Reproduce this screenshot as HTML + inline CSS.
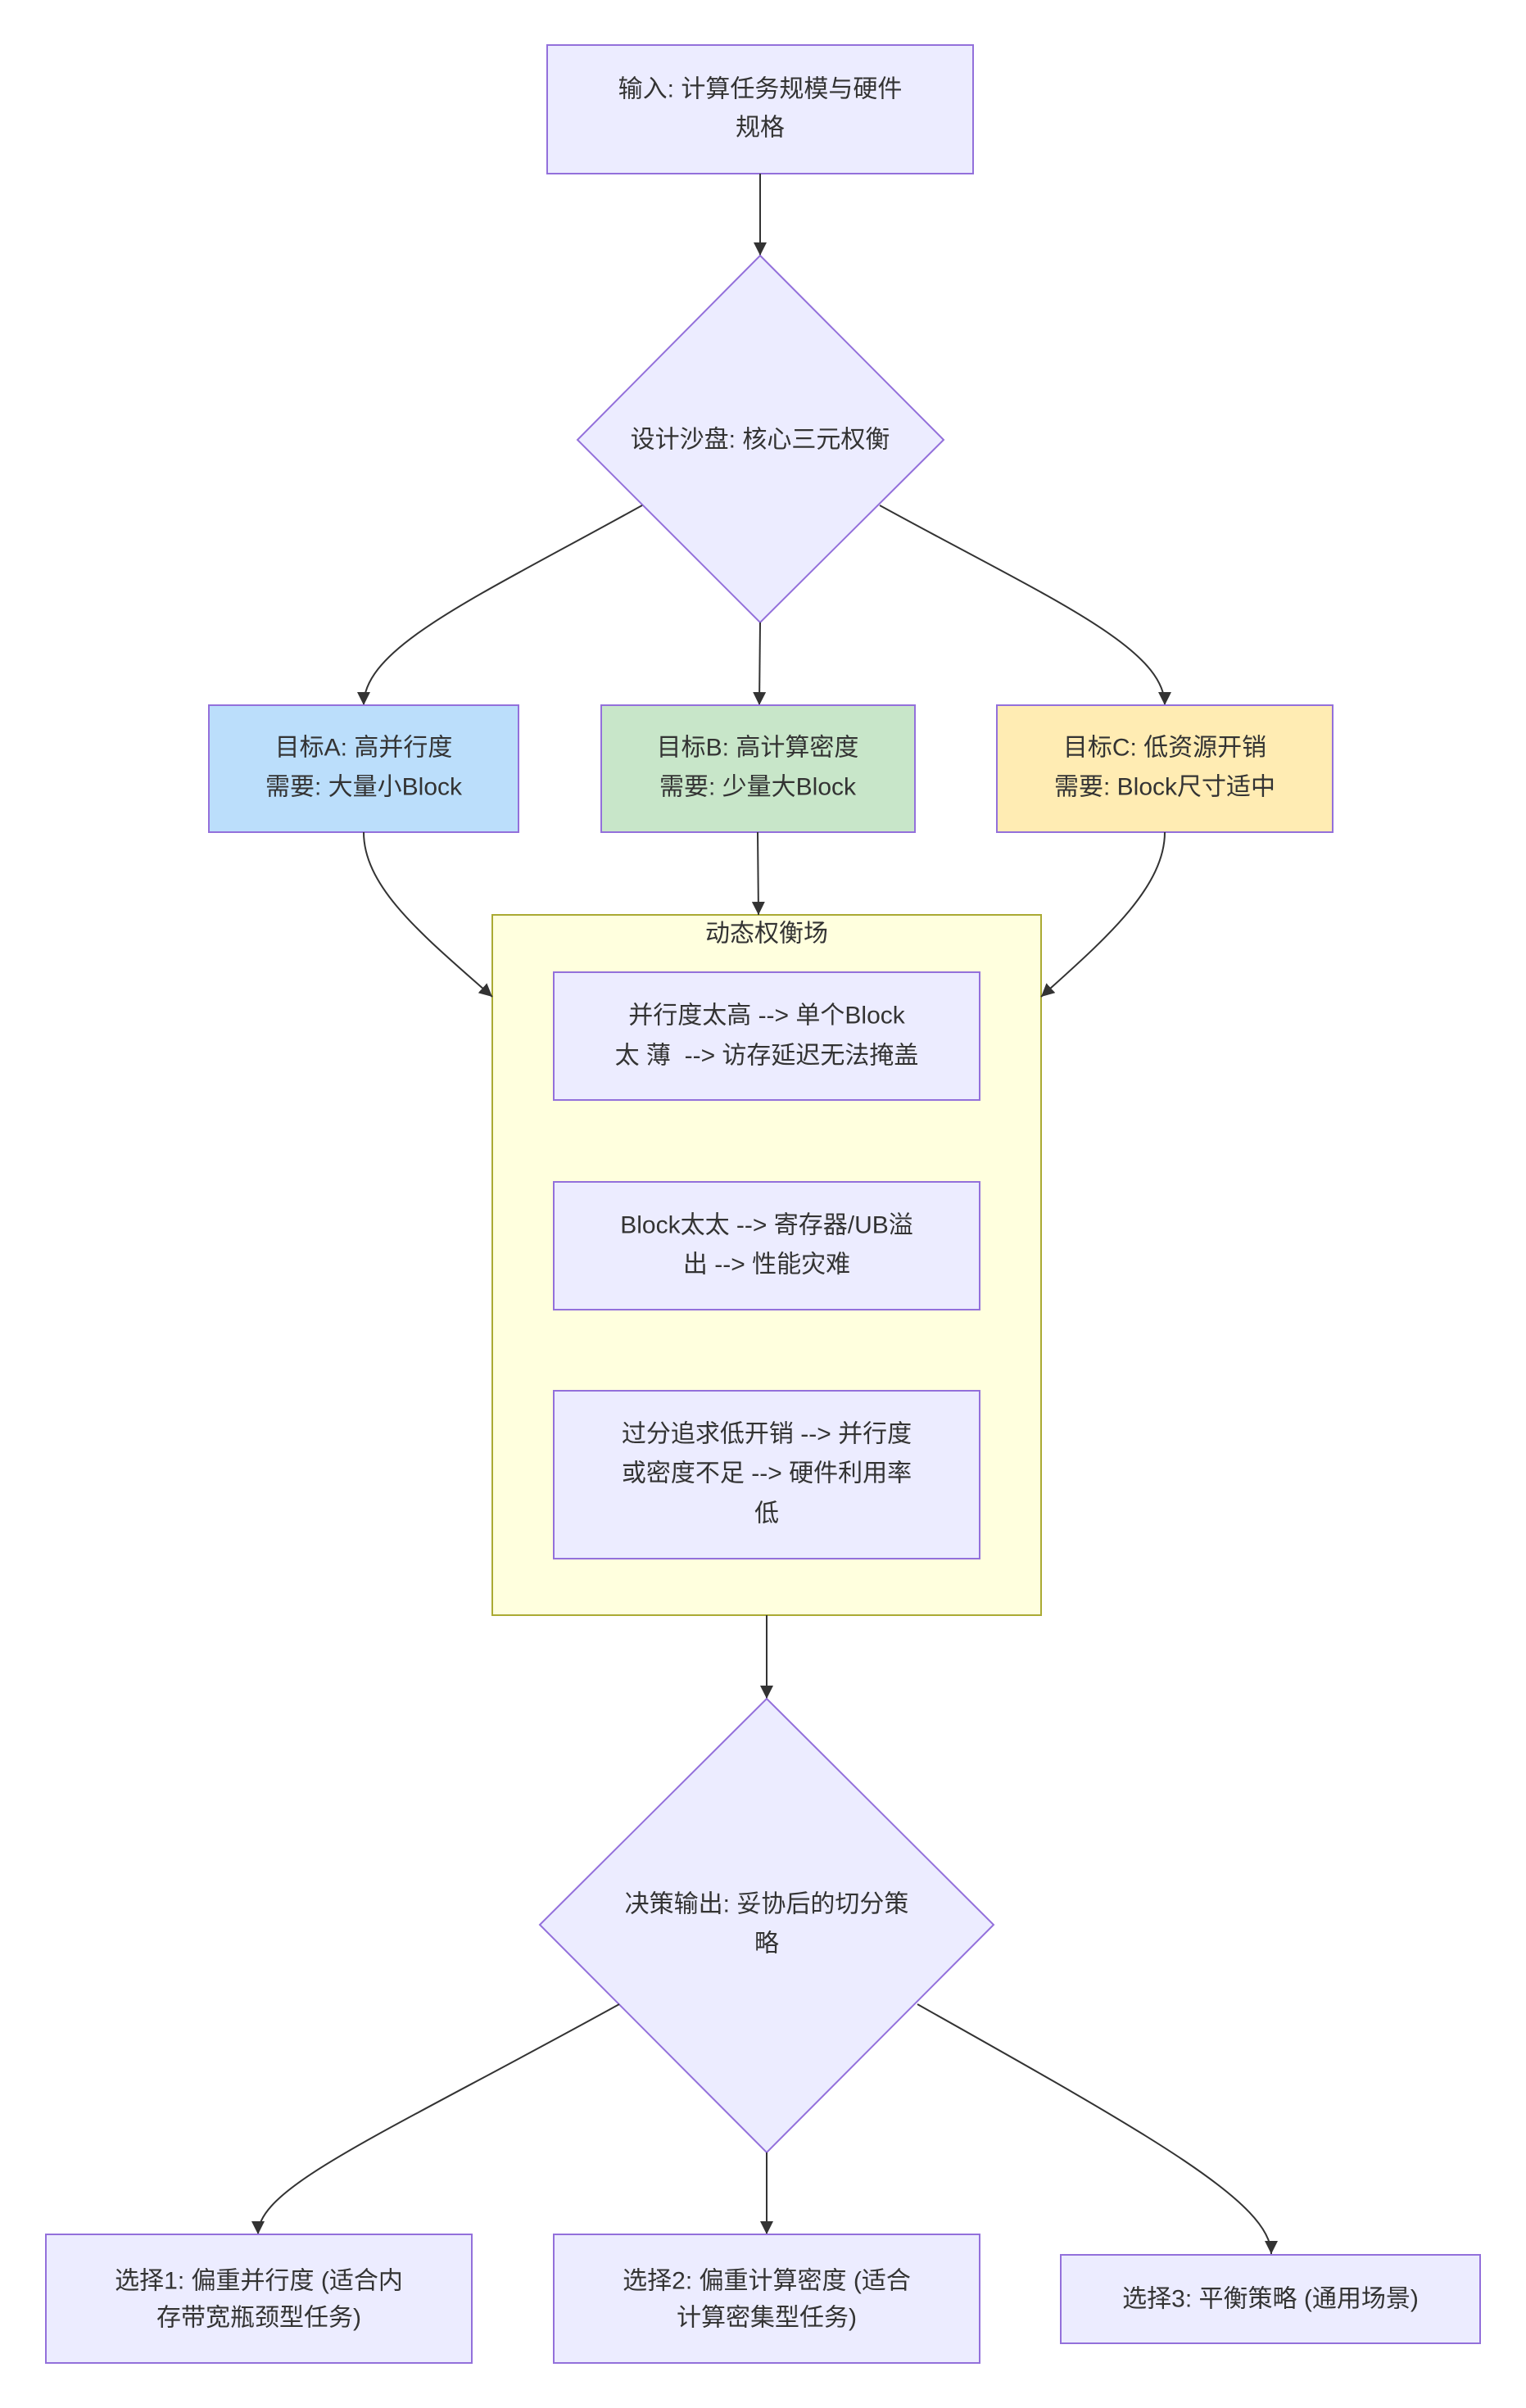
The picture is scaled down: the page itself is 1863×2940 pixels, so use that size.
<!DOCTYPE html>
<html><head><meta charset="utf-8"><style>
html,body{margin:0;padding:0;background:#fff;}
svg{display:block;}
text{font-family:"Liberation Sans","Noto Sans CJK SC",sans-serif;font-size:30px;fill:#333;text-anchor:middle;dominant-baseline:central;}
.n{fill:#ECECFF;stroke:#9370DB;stroke-width:2;}
.e{fill:none;stroke:#333;stroke-width:2;}
</style></head><body>
<svg width="1863" height="2940" viewBox="0 0 1863 2940" xmlns="http://www.w3.org/2000/svg">
<defs>
<marker id="a" markerUnits="userSpaceOnUse" markerWidth="16" markerHeight="16" viewBox="0 0 10 10" refX="10" refY="5" orient="auto">
<path d="M0,0 L10,5 L0,10 z" fill="#333"/>
</marker>
</defs>
<rect x="0" y="0" width="1863" height="2940" fill="#fff"/>

<!-- input -->
<rect class="n" x="668" y="55" width="520" height="157"/>
<text x="928" y="109">输入: 计算任务规模与硬件</text>
<text x="928" y="156">规格</text>

<path class="e" d="M928,212 L928,312" marker-end="url(#a)"/>

<polygon class="n" points="928,312 1152,537 928,760 705,537"/>
<text x="928" y="537">设计沙盘: 核心三元权衡</text>

<path class="e" d="M784,617 C580,730 444,790 444,861" marker-end="url(#a)"/>
<path class="e" d="M928,760 L927,861" marker-end="url(#a)"/>
<path class="e" d="M1074,617 C1280,730 1422,790 1422,861" marker-end="url(#a)"/>

<rect x="255" y="861" width="378" height="155" fill="#BBDEFB" stroke="#9370DB" stroke-width="2"/>
<text x="444" y="913">目标A: 高并行度</text>
<text x="444" y="961">需要: 大量小Block</text>
<rect x="734" y="861" width="383" height="155" fill="#C8E6C9" stroke="#9370DB" stroke-width="2"/>
<text x="925" y="913">目标B: 高计算密度</text>
<text x="925" y="961">需要: 少量大Block</text>
<rect x="1217" y="861" width="410" height="155" fill="#FFECB3" stroke="#9370DB" stroke-width="2"/>
<text x="1422" y="913">目标C: 低资源开销</text>
<text x="1422" y="961">需要: Block尺寸适中</text>

<!-- subgraph -->
<rect x="601" y="1117" width="670" height="855" fill="#FFFFDE" stroke="#AAAA33" stroke-width="2"/>
<text x="936" y="1140">动态权衡场</text>

<path class="e" d="M444,1016 C444,1085 520,1145 601,1217" marker-end="url(#a)"/>
<path class="e" d="M925,1016 L926,1117" marker-end="url(#a)"/>
<path class="e" d="M1422,1016 C1422,1085 1345,1150 1271,1217" marker-end="url(#a)"/>

<rect class="n" x="676" y="1187" width="520" height="156"/>
<text x="936" y="1240">并行度太高 --&gt; 单个Block</text>
<text x="936" y="1289">太 薄 &#160;--&gt; 访存延迟无法掩盖</text>

<rect class="n" x="676" y="1443" width="520" height="156"/>
<text x="936" y="1496">Block太太 --&gt; 寄存器/UB溢</text>
<text x="936" y="1544">出 --&gt; 性能灾难</text>

<rect class="n" x="676" y="1698" width="520" height="205"/>
<text x="936" y="1751">过分追求低开销 --&gt; 并行度</text>
<text x="936" y="1799">或密度不足 --&gt; 硬件利用率</text>
<text x="936" y="1848">低</text>

<path class="e" d="M936,1972 L936,2074" marker-end="url(#a)"/>

<polygon class="n" points="936,2074 1213,2350 936,2628 659,2350"/>
<text x="936" y="2325">决策输出: 妥协后的切分策</text>
<text x="936" y="2373">略</text>

<path class="e" d="M756,2447 C460,2610 315,2670 315,2728" marker-end="url(#a)"/>
<path class="e" d="M936,2628 L936,2728" marker-end="url(#a)"/>
<path class="e" d="M1120,2447 C1410,2610 1552,2690 1552,2752" marker-end="url(#a)"/>

<rect class="n" x="56" y="2728" width="520" height="157"/>
<text x="316" y="2785">选择1: 偏重并行度 (适合内</text>
<text x="316" y="2830">存带宽瓶颈型任务)</text>
<rect class="n" x="676" y="2728" width="520" height="157"/>
<text x="936" y="2785">选择2: 偏重计算密度 (适合</text>
<text x="936" y="2830">计算密集型任务)</text>
<rect class="n" x="1295" y="2753" width="512" height="108"/>
<text x="1551" y="2807">选择3: 平衡策略 (通用场景)</text>
</svg>
</body></html>
